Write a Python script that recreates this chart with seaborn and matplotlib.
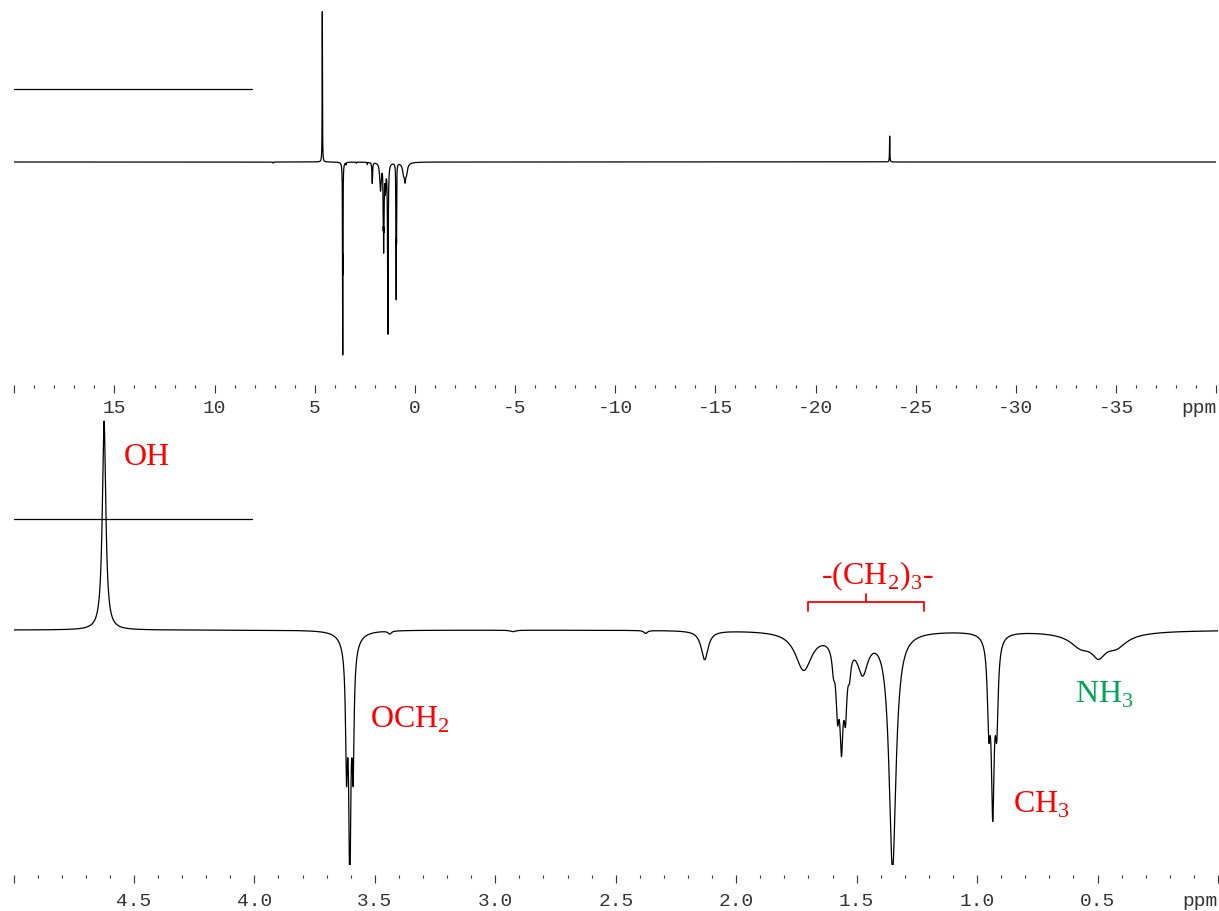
import numpy as np
import pandas as pd
import matplotlib
matplotlib.use("Agg")
import matplotlib.pyplot as plt
from matplotlib.ticker import MultipleLocator
import seaborn as sns

# ---------------- data: peak list ----------------
# chemical shift (ppm), signed intensity (arb. units), half width at half max (ppm)
peak_ppm = [4.624,
            3.6177, 3.604, 3.5903, 3.604,
            3.438, 2.927, 2.376, 2.131, 1.720,
            1.5962, 1.5796, 1.563, 1.5464, 1.5298, 1.563,
            1.475, 1.351,
            0.9516, 0.935, 0.9184, 0.935,
            0.571, 0.496, 0.421, 0.496,
            -23.7, 7.08]
peak_int = [209,
            -108, -216, -108, -30,
            -3, -1.5, -3, -29, -38,
            -18, -48, -68, -48, -18, -36,
            -36, -236,
            -76, -152, -76, -16,
            -10, -15, -10, -8,
            36, -1.5]
peak_hw = [0.0087,
           0.0046, 0.0046, 0.0046, 0.025,
           0.0083, 0.0125, 0.0083, 0.0174, 0.0415,
           0.0068, 0.0068, 0.0068, 0.0068, 0.0068, 0.026,
           0.027, 0.0174,
           0.0068, 0.0068, 0.0068, 0.020,
           0.050, 0.033, 0.050, 0.125,
           0.010, 0.02]

top_ticks = [20, 15, 10, 5, 0, -5, -10, -15, -20, -25, -30, -35, -40]
top_labels = ["", "15", "10", "5", "0", "-5", "-10", "-15", "-20", "-25",
              "-30", "-35", "ppm"]
bottom_ticks = [5.0, 4.5, 4.0, 3.5, 3.0, 2.5, 2.0, 1.5, 1.0, 0.5, 0.0]
bottom_labels = ["", "4.5", "4.0", "3.5", "3.0", "2.5", "2.0", "1.5", "1.0",
                 "0.5", "ppm"]

ann_text = ["OH", "OCH$_\\mathregular{2}$", "-(CH$_\\mathregular{2}$)$_\\mathregular{3}$-",
            "CH$_\\mathregular{3}$", "NH$_\\mathregular{3}$"]
ann_x = [4.541, 3.521, 1.413, 0.853, 0.595]
ann_y = [166, -97, 47, -182, -72]
ann_color = ["#ff0000", "#ff0000", "#ff0000", "#ff0000", "#00a651"]
ann_ha = ["left", "left", "center", "left", "left"]

bracket_left, bracket_right = 1.70, 1.22


def spectrum(x):
    y = np.zeros_like(x)
    for p, a, w in zip(peak_ppm, peak_int, peak_hw):
        y += a * w ** 2 / (w ** 2 + (x - p) ** 2)
    return y


sns.set_theme(style="white")
plt.rcParams["font.family"] = ["Liberation Mono", "DejaVu Sans"]
plt.rcParams["mathtext.fontset"] = "custom"
plt.rcParams["mathtext.rm"] = "Liberation Serif"

W, H = 1219, 912
fig = plt.figure(figsize=(W / 100, H / 100), dpi=100)
fig.patch.set_facecolor("white")

# top panel: full range
ax_t = fig.add_axes([14.3 / W, (H - 376) / H, 1201.9 / W, 376 / H])
# bottom panel: 5 - 0 ppm
ax_b = fig.add_axes([13.5 / W, (H - 866) / H, 1204.5 / W, (866 - 415) / H])

x_top = np.linspace(20, -40, 150001)
x_bot = np.linspace(5, 0, 25001)
df_top = pd.DataFrame({"ppm": x_top, "I": spectrum(x_top)})
df_bot = pd.DataFrame({"ppm": x_bot, "I": spectrum(x_bot)})

sns.lineplot(data=df_top, x="ppm", y="I", ax=ax_t, color="black",
             linewidth=0.9, estimator=None, sort=False, errorbar=None)
sns.lineplot(data=df_bot, x="ppm", y="I", ax=ax_b, color="black",
             linewidth=0.9, estimator=None, sort=False, errorbar=None)

top_scale = 0.72
ax_t.set_xlim(20, -40)
ax_t.set_ylim(-(376 - 163) / top_scale, 163 / top_scale)
ax_b.set_xlim(5, 0)
ax_b.set_ylim(-(866 - 631), 631 - 415)

# reference lines at the upper left of each panel
ax_t.axhline(101, xmin=0.0, xmax=0.198, color="black", linewidth=0.9)
ax_b.axhline(111, xmin=0.0, xmax=0.198, color="black", linewidth=0.9)

for ax, ticks, labels, minor, pad in [(ax_t, top_ticks, top_labels, 1.0, 4),
                                      (ax_b, bottom_ticks, bottom_labels, 0.1, 6)]:
    ax.patch.set_visible(False)
    for s in ["top", "right", "left"]:
        ax.spines[s].set_visible(False)
    ax.spines["bottom"].set_position(("outward", 7.2))
    ax.spines["bottom"].set_color("none")
    ax.set_yticks([])
    ax.set_xticks(ticks)
    ax.set_xticklabels(labels)
    ax.xaxis.set_minor_locator(MultipleLocator(minor))
    ax.tick_params(axis="x", which="major", direction="out", length=6,
                   width=0.8, color="#333333", labelsize=14, pad=pad,
                   labelcolor="#333333", bottom=True)
    ax.tick_params(axis="x", which="minor", direction="out", length=2.5,
                   width=0.8, color="#333333", bottom=True)
    ax.set_xlabel("")
    ax.set_ylabel("")
    ax.grid(False)
    ax.xaxis.get_major_ticks()[-1].label1.set_horizontalalignment("right")

# annotations
for t, x, y, c, ha in zip(ann_text, ann_x, ann_y, ann_color, ann_ha):
    ax_b.text(x, y, t, color=c, ha=ha, va="baseline", fontsize=23,
              family="Liberation Serif")

# bracket over the -(CH2)3- region
bx = [bracket_left, bracket_left, bracket_right, bracket_right]
by = [19, 28, 28, 19]
ax_b.plot(bx, by, color="#ff0000", linewidth=1.3, solid_joinstyle="round")
mid = (bracket_left + bracket_right) / 2
ax_b.plot([mid, mid], [28, 36], color="#ff0000", linewidth=1.3)

fig.savefig("out.png", dpi=100, facecolor="white")
